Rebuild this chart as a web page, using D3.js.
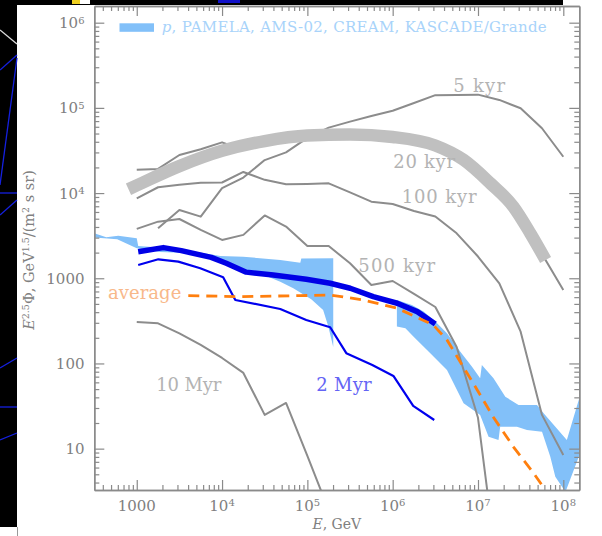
<!DOCTYPE html>
<html>
<head>
<meta charset="utf-8">
<script src="https://cdn.jsdelivr.net/npm/d3@7"></script>
<style>
  html, body { margin: 0; padding: 0; background: #fff; }
  svg { display: block; }
  text { font-family: "DejaVu Serif", serif; }
</style>
</head>
<body>
<svg id="chart" width="602" height="536"></svg>
<script>
// ---- data -------------------------------------------------------------
// energies (GeV) on the quarter-decade grid of the source-age curves
const gridE = [1000, 1778, 3162, 5623, 1e4, 1.778e4, 3.162e4, 5.623e4, 1e5, 1.778e5,
               3.162e5, 5.623e5, 1e6, 1.778e6, 3.162e6, 5.623e6, 1e7, 1.778e7, 3.162e7, 5.623e7, 1e8];

// E^2.5 * flux for single sources of given age (null = not computed)
const phi5kyr   = [null, 3860, 6340, 5290, 11400, 15200, 24400, 30000, 44400, 58600, 68900,
                   80200, 92700, 114000, 141000, 142000, 143000, 124000, 98900, 57700, 26700];
const phi20kyr  = [18800, 19200, 28000, 32700, 39400, 32100, 38700, 44400, 46800, 49000, 48700,
                   48100, 45500, 42600, 36700, 26500, 17500, 10300, 5380, 1930, 730];
const phi100kyr = [8690, 11700, 12500, 13200, 13300, 17700, 14300, 12700, 12800, 13000, 10200,
                   7930, 7450, 6170, 5310, 3370, 1800, 873, 236, 24.9, 8.43];
const phi500kyr = [3800, 4620, 4960, 3690, 2820, 3230, 5460, 4040, 2390, 2390, 1500,
                   834, 929, 654, 460, 156, 23, 0.25];
const phi10Myr  = [307, 296, 226, 165, 116, 77.4, 24.9, 34.4, 8.2, 1.9];

// smoothed 20 kyr curve
const smoothE   = [800, 1000, 3162, 1e4, 3.162e4, 1e5, 3.162e5, 1e6, 3.162e6, 6.8e6, 1.4e7, 2.6e7, 4.1e7, 6.2e7];
const smoothPhi = [11100, 12300, 20700, 31300, 40800, 47300, 48700, 45500, 36200, 24500, 13000, 6920, 3380, 1640];

// 2 Myr source
const myr2E   = [1040, 1790, 3070, 5550, 10300, 14300, 48100, 97000, 185000, 286000, 577000, 1.02e6, 1.74e6, 3.07e6];
const myr2Phi = [1430, 1670, 1570, 1310, 1030, 556, 436, 324, 266, 132, 95.9, 71.3, 31.7, 21.7];

// summed spectrum (thick blue)
const totalE   = [1040, 2050, 3330, 7460, 11200, 19200, 39800, 97000, 185000, 318000, 592000, 1.13e6, 1.94e6, 3.16e6];
const totalPhi = [2050, 2290, 2110, 1760, 1500, 1180, 1090, 973, 873, 763, 609, 509, 406, 291];

// average spectrum (dashed orange)
const avgE   = [4020, 16300, 82600, 185000, 452000, 1.13e6, 2.99e6, 4.33e6, 6.21e6, 9.8e6, 1.51e7, 2.6e7, 4.46e7, 6.17e7];
const avgPhi = [625, 608, 625, 637, 556, 445, 283, 189, 104, 48.9, 23.5, 10.5, 5.19, 3.27];

// measured proton band: PAMELA / AMS-02 / CREAM part, edges as [E, phi]
const bandLowUpper = [[318, 3380], [439, 3030], [607, 3160], [1000, 2940], [1040, 2390], [3240, 2210],
                      [9530, 1830], [17700, 1790], [48100, 1640], [82600, 1520], [84900, 1710], [201000, 1720]];
const bandLowLower = [[318, 3000], [590, 2870], [1000, 2250], [1880, 2040], [4590, 1970], [11200, 1550],
                      [19200, 1250], [33000, 1060], [48100, 912], [68400, 763], [111000, 567],
                      [153000, 425], [176000, 271], [201000, 156]];
// KASCADE / KASCADE-Grande part
const bandHighUpper = [[1.12e6, 556], [1.68e6, 486], [2.30e6, 406], [3.16e6, 310], [4.33e6, 226],
                       [6.21e6, 137], [8.51e6, 91.6], [1.06e7, 67.0], [1.11e7, 95.9], [1.52e7, 67.0],
                       [2.09e7, 40.7], [2.99e7, 32.6], [4.92e7, 32.6], [5.88e7, 26.0], [1.10e8, 12.6], [1.58e8, 42.7]];
const bandHighLower = [[1.12e6, 271], [1.41e6, 259], [1.76e6, 206], [2.76e6, 132], [4.33e6, 83.9],
                       [6.78e6, 34.1], [1.06e7, 24.9], [1.33e7, 13.8], [1.74e7, 12.6], [1.82e7, 18.1],
                       [2.86e7, 18.1], [3.75e7, 16.6], [5.63e7, 15.8], [7.04e7, 8.05], [8.06e7, 4.69],
                       [1.06e8, 3.10], [1.58e8, 8.91]];

// axes
const xDomain = [318, 1.54e8];
const yDomain = [3.27, 1.57e6];
const xMajor = [1e3, 1e4, 1e5, 1e6, 1e7, 1e8];
const xTickLabels = ["1000", "10^4", "10^5", "10^6", "10^7", "10^8"];
const yMajor = [10, 100, 1000, 1e4, 1e5, 1e6];
const yTickLabels = ["10", "100", "1000", "10^4", "10^5", "10^6"];

// ---- layout -----------------------------------------------------------
const svg = d3.select("#chart");
const plot = { left: 94.3, right: 579.3, top: 6, bottom: 490 };
const x = d3.scaleLog().domain(xDomain).range([plot.left, plot.right]);
const y = d3.scaleLog().domain(yDomain).range([plot.bottom, plot.top]);

const GRAY = "#8c8c8c", AXIS = "#8a8a8a", LABEL = "#808080";
const BAND = "#82c0f9";

// dark page frame on the left and top
const frame = svg.append("g");
frame.append("rect").attr("x", 0).attr("y", 0).attr("width", 17).attr("height", 527).attr("fill", "#000");
frame.append("rect").attr("x", 17).attr("y", 0).attr("width", 546).attr("height", 5).attr("fill", "#000");
frame.append("rect").attr("x", 218).attr("y", 0).attr("width", 22).attr("height", 3).attr("fill", "#1010c8");
frame.append("rect").attr("x", 72).attr("y", 0).attr("width", 10).attr("height", 4).attr("fill", "#f0d020");
frame.append("rect").attr("x", 80).attr("y", 0).attr("width", 10).attr("height", 4).attr("fill", "#fff");
[[0, 30, 17, 44, "#ddd"], [0, 70, 17, 55, "#1520e0"], [17, 58, 0, 185, "#1520e0"], [0, 193, 17, 193, "#1520e0"],
 [0, 215, 17, 200, "#1520e0"], [0, 368, 17, 358, "#1520e0"], [0, 407, 17, 407, "#1520e0"], [0, 440, 17, 433, "#1520e0"]]
  .forEach(s => frame.append("line").attr("x1", s[0]).attr("y1", s[1]).attr("x2", s[2]).attr("y2", s[3])
    .attr("stroke", s[4]).attr("stroke-width", 1.3));
frame.append("line").attr("x1", 17.5).attr("y1", 527).attr("x2", 17.5).attr("y2", 536).attr("stroke", "#999");

svg.append("clipPath").attr("id", "plotclip").append("rect")
  .attr("x", plot.left).attr("y", plot.top)
  .attr("width", plot.right - plot.left).attr("height", plot.bottom - plot.top);

const g = svg.append("g").attr("clip-path", "url(#plotclip)");
const line = d3.line().x(d => x(d[0])).y(d => y(d[1]));
const pairs = (es, ps) => es.map((e, i) => [e, ps[i]]).filter(d => d[1] != null);

// measured band
[[bandLowUpper, bandLowLower], [bandHighUpper, bandHighLower]].forEach(([up, lo]) => {
  g.append("path").attr("d", line(up.concat(lo.slice().reverse())) + "Z")
    .attr("fill", BAND).attr("stroke", "none");
});

// single-source curves
[phi5kyr, phi20kyr, phi100kyr, phi500kyr, phi10Myr].forEach(ps => {
  g.append("path").attr("d", line(pairs(gridE.slice(0, ps.length), ps)))
    .attr("fill", "none").attr("stroke", GRAY).attr("stroke-width", 2).attr("stroke-linejoin", "round");
});

// smoothed 20 kyr curve
g.append("path").attr("d", d3.line().x(d => x(d[0])).y(d => y(d[1])).curve(d3.curveMonotoneX)(pairs(smoothE, smoothPhi)))
  .attr("fill", "none").attr("stroke", "#c0c0c0").attr("stroke-width", 12.5).attr("stroke-linecap", "butt");

// 2 Myr source and total
g.append("path").attr("d", line(pairs(myr2E, myr2Phi)))
  .attr("fill", "none").attr("stroke", "#0000ee").attr("stroke-width", 2.2).attr("stroke-linejoin", "round");
g.append("path").attr("d", line(pairs(totalE, totalPhi)))
  .attr("fill", "none").attr("stroke", "#0000e6").attr("stroke-width", 5.5).attr("stroke-linejoin", "round");

// average
g.append("path").attr("d", line(pairs(avgE, avgPhi)))
  .attr("fill", "none").attr("stroke", "#ff7f0e").attr("stroke-width", 2.8).attr("stroke-dasharray", "11,7");

// ---- annotations ------------------------------------------------------
const notes = svg.append("g").attr("font-size", 18);
[["5 kyr", 453.3, 91.7, "#b3b3b3", 51.7], ["20 kyr", 393.3, 168.3, "#b3b3b3", 61.7],
 ["100 kyr", 401.7, 203.3, "#b3b3b3", 75], ["500 kyr", 358.3, 271.7, "#b3b3b3", 76.7],
 ["10 Myr", 156.3, 390.7, "#b3b3b3", 65], ["2 Myr", 316.3, 390.7, "#6464f5", 55.4],
 ["average", 108, 298.6, "#f8b88a", 73.3]]
  .forEach(n => notes.append("text").attr("x", n[1]).attr("y", n[2]).attr("fill", n[3])
    .attr("textLength", n[4]).attr("lengthAdjust", "spacing").text(n[0]));

// legend
svg.append("rect").attr("x", 119.5).attr("y", 23.3).attr("width", 34.5).attr("height", 8.5).attr("fill", BAND);
const leg = svg.append("text").attr("x", 161.7).attr("y", 32.3).attr("font-size", 15).attr("fill", "#a8d3fa")
  .attr("textLength", 385).attr("lengthAdjust", "spacing");
leg.append("tspan").attr("font-style", "italic").text("p");
leg.append("tspan").text(", PAMELA, AMS-02, CREAM, KASCADE/Grande");

// ---- axes -------------------------------------------------------------
const isMajor = v => Math.abs(Math.log10(v) - Math.round(Math.log10(v))) < 1e-6;
const xMinor = x.ticks().filter(v => !isMajor(v));
const yMinor = y.ticks().filter(v => !isMajor(v));

function styleAxis(sel) {
  sel.selectAll("path").attr("stroke", AXIS).attr("stroke-width", 1.4);
  sel.selectAll("line").attr("stroke", AXIS).attr("stroke-width", 1.2);
  sel.selectAll("text").remove();
}
const axes = svg.append("g");
const axisSpecs = [
  [d3.axisBottom, x, `translate(0,${plot.bottom})`, xMajor, xMinor],
  [d3.axisTop, x, `translate(0,${plot.top})`, xMajor, xMinor],
  [d3.axisLeft, y, `translate(${plot.left},0)`, yMajor, yMinor],
  [d3.axisRight, y, `translate(${plot.right},0)`, yMajor, yMinor]
];
axisSpecs.forEach(([fn, sc, tr, maj, mnr]) => {
  axes.append("g").attr("transform", tr)
    .call(fn(sc).tickValues(mnr).tickSizeInner(-5).tickSizeOuter(0).tickFormat(""))
    .call(styleAxis);
  axes.append("g").attr("transform", tr)
    .call(fn(sc).tickValues(maj).tickSizeInner(-10).tickSizeOuter(0).tickFormat(""))
    .call(styleAxis);
});

function powerLabel(t, label, supSize) {
  const parts = label.split("^");
  t.append("tspan").text(parts[0]);
  if (parts[1]) t.append("tspan").attr("dy", -4.5).attr("font-size", supSize).text(parts[1]);
}
xMajor.forEach((v, i) => {
  const t = axes.append("text").attr("x", x(v)).attr("y", 510.7).attr("text-anchor", "middle")
    .attr("font-size", 15).attr("fill", LABEL);
  powerLabel(t, xTickLabels[i], 10);
});
yMajor.forEach((v, i) => {
  const t = axes.append("text").attr("x", 84.5).attr("y", y(v) + 5.6).attr("text-anchor", "end")
    .attr("font-size", 15).attr("fill", LABEL);
  powerLabel(t, yTickLabels[i], 10);
});

// axis titles
const xt = axes.append("text").attr("x", (plot.left + plot.right) / 2).attr("y", 529.3)
  .attr("text-anchor", "middle").attr("font-size", 14).attr("fill", LABEL);
xt.append("tspan").attr("font-style", "italic").text("E");
xt.append("tspan").text(", GeV");

const yt = axes.append("text").attr("transform", "translate(34,250) rotate(-90)")
  .attr("text-anchor", "middle").attr("font-size", 14.5).attr("fill", LABEL);
yt.append("tspan").attr("font-style", "italic").text("E");
yt.append("tspan").attr("dy", -5).attr("font-size", 9.5).text("2.5");
yt.append("tspan").attr("dy", 5).text("Φ, GeV");
yt.append("tspan").attr("dy", -5).attr("font-size", 9.5).text("1.5");
yt.append("tspan").attr("dy", 5).text("/(m");
yt.append("tspan").attr("dy", -5).attr("font-size", 9.5).text("2");
yt.append("tspan").attr("dy", 5).text(" s sr)");
</script>
</body>
</html>
